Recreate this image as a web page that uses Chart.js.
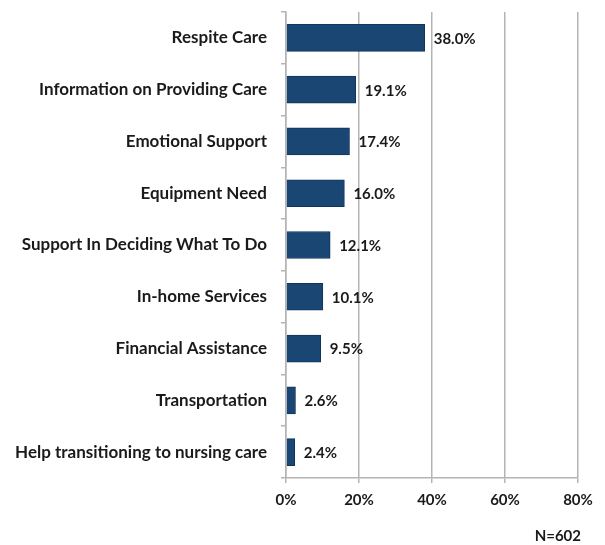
<!DOCTYPE html>
<html>
<head>
<meta charset="utf-8">
<script src="https://cdn.jsdelivr.net/npm/chart.js@4/dist/chart.umd.min.js"></script>
<style>
  html, body { margin: 0; padding: 0; background: #fff; }
  #wrap { width: 605px; height: 545px; position: relative; }
</style>
</head>
<body>
<div id="wrap"><canvas id="c" width="605" height="545"></canvas></div>
<script>
// Support needs reported by caregivers (percent of respondents)
const categories = [
  'Respite Care',
  'Information on Providing Care',
  'Emotional Support',
  'Equipment Need',
  'Support In Deciding What To Do',
  'In-home Services',
  'Financial Assistance',
  'Transportation',
  'Help transitioning to nursing care'
];
const percents = [38.0, 19.1, 17.4, 16.0, 12.1, 10.1, 9.5, 2.6, 2.4];
const xTicks = [0, 20, 40, 60, 80];
const sampleNote = 'N=602';

const FONT = 'Lato, "Open Sans", sans-serif';
const TEXT = '#1a1a1a';
const GRID = '#b4b4b4';

// Value labels at the end of each bar, plus the sample-size note
const valueLabels = {
  id: 'valueLabels',
  afterDatasetsDraw(chart) {
    const ctx = chart.ctx;
    const meta = chart.getDatasetMeta(0);
    ctx.save();
    ctx.font = 'bold 15px ' + FONT;
    ctx.fillStyle = TEXT;
    ctx.textBaseline = 'middle';
    ctx.textAlign = 'left';
    meta.data.forEach((bar, i) => {
      ctx.fillText(percents[i].toFixed(1) + '%', bar.x + 9, bar.y + 1);
    });
    ctx.textAlign = 'right';
    ctx.fillText(sampleNote, chart.width - 24, 536);
    ctx.restore();
  }
};

new Chart(document.getElementById('c'), {
  type: 'bar',
  data: {
    labels: categories,
    datasets: [{
      data: percents,
      backgroundColor: '#1a4674',
      borderColor: '#10355a',
      borderWidth: 1,
      barThickness: 27
    }]
  },
  options: {
    indexAxis: 'y',
    responsive: false,
    animation: false,
    layout: { padding: { top: 12, right: 27, bottom: 22, left: 0 } },
    plugins: { legend: { display: false }, tooltip: { enabled: false } },
    scales: {
      x: {
        min: 0,
        max: 80,
        afterBuildTicks(scale) { scale.ticks = xTicks.map(v => ({ value: v })); },
        afterFit(scale) {
          scale.height = 45;
          scale.paddingLeft = 0;
          scale.paddingRight = 0;
        },
        border: { color: GRID, width: 1.5 },
        grid: { color: GRID, lineWidth: 1.5, tickLength: 5, drawTicks: true },
        ticks: {
          padding: 8,
          color: TEXT,
          font: { family: FONT, size: 15, weight: 'bold' },
          callback: v => v + '%'
        }
      },
      y: {
        afterFit(scale) {
          scale.width = 286;
          scale.paddingTop = 0;
          scale.paddingBottom = 0;
        },
        border: { color: GRID, width: 1.5 },
        grid: { drawOnChartArea: false, drawTicks: true, tickLength: 5, color: GRID, lineWidth: 1.5 },
        ticks: {
          padding: 14,
          color: TEXT,
          font: { family: FONT, size: 17, weight: 'bold' }
        }
      }
    }
  },
  plugins: [valueLabels]
});
</script>
</body>
</html>
